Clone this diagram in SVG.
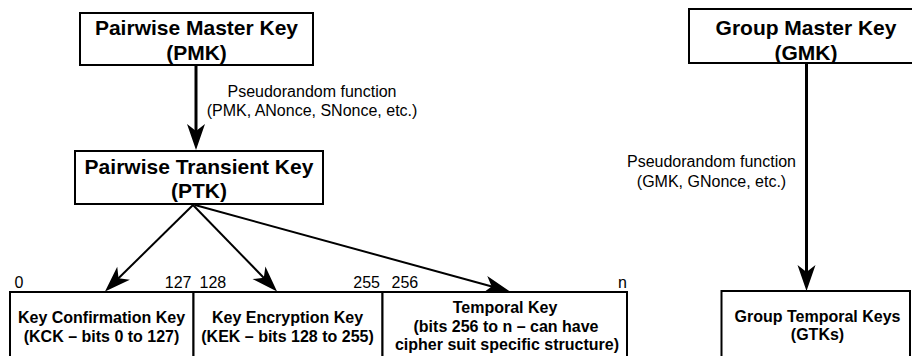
<svg xmlns="http://www.w3.org/2000/svg" width="912" height="356" viewBox="0 0 912 356">
  <style>
    .box { fill: #ffffff; stroke: #000000; stroke-width: 2; }
    .title { font-family: "Liberation Sans", Arial, sans-serif; font-size: 21px; font-weight: bold; fill: #000000; text-anchor: middle; }
    .sub { font-family: "Liberation Sans", Arial, sans-serif; font-size: 16px; font-weight: bold; fill: #000000; text-anchor: middle; }
    .lbl { font-family: "Liberation Sans", Arial, sans-serif; font-size: 16px; fill: #000000; }
    .thick { stroke: #000000; stroke-width: 3; fill: none; }
    .thin { stroke: #000000; stroke-width: 2; fill: none; }
  </style>
  <defs>
    <marker id="head" markerUnits="userSpaceOnUse" viewBox="-27 -11 29 22" markerWidth="29" markerHeight="22" refX="-15" refY="0" orient="auto">
      <path d="M0,0 L-26,-9 L-19,0 L-26,9 Z" fill="#000000"/>
    </marker>
  </defs>

  <rect width="912" height="356" fill="#ffffff"/>

  <!-- connectors -->
  <g id="connectors">
    <line class="thick" x1="196" y1="66" x2="196" y2="135" marker-end="url(#head)"/>
    <line class="thin" x1="193" y1="205" x2="115.7" y2="281" marker-end="url(#head)"/>
    <line class="thin" x1="193" y1="205" x2="266.6" y2="280.7" marker-end="url(#head)"/>
    <line class="thin" x1="195" y1="205" x2="495.5" y2="287.5" marker-end="url(#head)"/>
    <line class="thick" x1="806.5" y1="64" x2="806.5" y2="276" marker-end="url(#head)"/>
  </g>

  <!-- pairwise hierarchy -->
  <g id="pmk">
    <rect class="box" x="80" y="13" width="233" height="52"/>
    <text class="title" x="196.5" y="34.5">Pairwise Master Key</text>
    <text class="title" x="196.5" y="59.5">(PMK)</text>
  </g>

  <g id="pmk-prf">
    <text class="lbl" x="312" y="96.5" text-anchor="middle">Pseudorandom function</text>
    <text class="lbl" x="312" y="116" text-anchor="middle">(PMK, ANonce, SNonce, etc.)</text>
  </g>

  <g id="ptk">
    <rect class="box" x="75" y="151" width="248" height="53"/>
    <text class="title" x="199" y="173.5">Pairwise Transient Key</text>
    <text class="title" x="199" y="198">(PTK)</text>
  </g>

  <g id="bit-marks">
    <text class="lbl" x="14.5" y="288">0</text>
    <text class="lbl" x="191.5" y="288" text-anchor="end">127</text>
    <text class="lbl" x="199.5" y="288">128</text>
    <text class="lbl" x="380" y="288" text-anchor="end">255</text>
    <text class="lbl" x="391.5" y="288">256</text>
    <text class="lbl" x="627" y="288" text-anchor="end">n</text>
  </g>

  <g id="kck">
    <rect class="box" x="10" y="292" width="183.5" height="80"/>
    <text class="sub" x="101.5" y="323">Key Confirmation Key</text>
    <text class="sub" x="101.5" y="341.5">(KCK – bits 0 to 127)</text>
  </g>

  <g id="kek">
    <rect class="box" x="193.5" y="292" width="189" height="80"/>
    <text class="sub" x="287.5" y="323">Key Encryption Key</text>
    <text class="sub" x="287.5" y="341.5">(KEK – bits 128 to 255)</text>
  </g>

  <g id="tk">
    <rect class="box" x="382.5" y="292" width="244.5" height="80"/>
    <text class="sub" x="505" y="313">Temporal Key</text>
    <text class="sub" x="506" y="331.5">(bits 256 to n – can have</text>
    <text class="sub" x="507" y="350">cipher suit specific structure)</text>
  </g>

  <!-- group hierarchy -->
  <g id="gmk">
    <rect class="box" x="689" y="9" width="240" height="54"/>
    <text class="title" x="806" y="34.5">Group Master Key</text>
    <text class="title" x="806" y="59.5">(GMK)</text>
  </g>

  <g id="gmk-prf">
    <text class="lbl" x="711.5" y="166.5" text-anchor="middle">Pseudorandom function</text>
    <text class="lbl" x="711.5" y="186.5" text-anchor="middle">(GMK, GNonce, etc.)</text>
  </g>

  <g id="gtk">
    <rect class="box" x="721.5" y="291" width="188.5" height="80"/>
    <text class="sub" x="817.5" y="322">Group Temporal Keys</text>
    <text class="sub" x="817.5" y="339.5">(GTKs)</text>
  </g>
</svg>
